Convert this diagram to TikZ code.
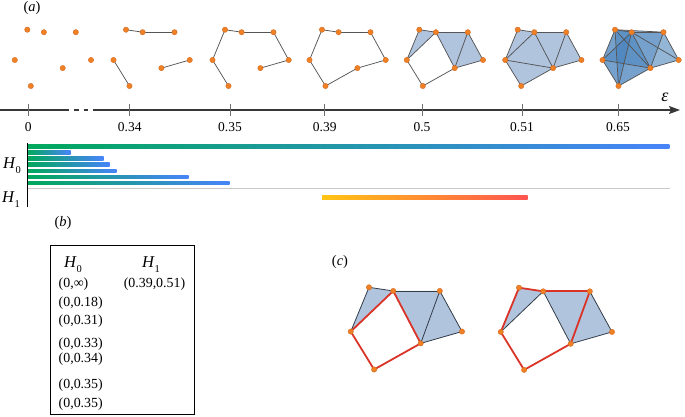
\documentclass[tikz,border=0pt]{standalone}
\usepackage{fontspec}
\setmainfont{Liberation Serif}
\usetikzlibrary{arrows.meta,calc}
\definecolor{ptor}{RGB}{240,128,36}
\definecolor{ptdk}{RGB}{205,100,30}
\definecolor{edgegray}{RGB}{85,85,85}
\definecolor{trifill}{RGB}{58,108,173}
\definecolor{trideep}{RGB}{45,112,178}
\definecolor{axgray}{RGB}{55,55,55}
\definecolor{tickgray}{RGB}{110,110,110}
\definecolor{hgreen}{RGB}{0,168,92}
\definecolor{hblue}{RGB}{72,132,250}
\definecolor{hyellow}{RGB}{255,196,20}
\definecolor{hred}{RGB}{255,84,80}
\definecolor{cycred}{RGB}{218,52,40}
\definecolor{sepgray}{RGB}{200,200,200}
\definecolor{cedge}{RGB}{50,60,72}
\newcommand{\mkpts}[4]{%
  \coordinate (#1A) at (#2,#3);
  \coordinate (#1B) at ({#2+#4*16.6},{#3+#4*2.5});
  \coordinate (#1C) at ({#2+#4*48.5},{#3+#4*2.5});
  \coordinate (#1D) at ({#2-#4*12.5},{#3+#4*30.3});
  \coordinate (#1E) at ({#2+#4*63.7},{#3+#4*30.3});
  \coordinate (#1F) at ({#2+#4*35.4},{#3+#4*38.4});
  \coordinate (#1G) at ({#2+#4*3.5},{#3+#4*56.3});
}
\newcommand{\drawpts}[1]{\foreach \p in {A,B,C,D,E,F,G} \fill[ptstyle] (#1\p) circle (2.7pt);}
\newcommand{\hsym}[1]{\textit{H}\raisebox{-0.3em}{\fontsize{10.5}{11}\selectfont #1}}
\begin{document}
\begin{tikzpicture}[x=1pt,y=-1pt,
  ptstyle/.style={fill=ptor,draw=ptdk,line width=0.3pt},
  edge/.style={draw=edgegray,line width=0.75pt},
  tri/.style={fill=trifill,fill opacity=0.4},
  trid/.style={fill=trideep,fill opacity=0.3},
  axis/.style={draw=axgray,line width=1.5pt},
  tickmark/.style={draw=tickgray,line width=0.8pt},
  ticklab/.style={font=\fontsize{13.5}{16}\selectfont,inner sep=0pt},
  lab/.style={font=\fontsize{14.5}{16}\selectfont,inner sep=0pt},
  tabtxt/.style={font=\fontsize{13.9}{15}\selectfont,inner sep=0pt},
  hlab/.style={font=\fontsize{16.5}{18}\selectfont,inner sep=0pt},
  cedgest/.style={draw=cedge,line width=0.8pt},
  credst/.style={draw=cycred,line width=1.8pt,line cap=round}]
\useasboundingbox (0,0) rectangle (685,416);
% ---------- (a) point clouds ----------
\node[lab] (la) at (32,8) {(\textit{a})};
\mkpts{f1}{27.3}{29.7}{1}
\mkpts{f2}{126}{29.7}{1}
\mkpts{f3}{225}{29.7}{1}
\mkpts{f4}{322}{29.7}{1}
\mkpts{f5}{419.3}{29.7}{1}
\mkpts{f6}{517.7}{29.7}{1}
\mkpts{f7}{615}{29.7}{1}
% frame 2
\foreach \u/\v in {A/B,B/C,D/G,E/F} \draw[edge] (f2\u) -- (f2\v);
% frame 3
\foreach \u/\v in {A/B,B/C,A/D,D/G,C/E,E/F} \draw[edge] (f3\u) -- (f3\v);
% frame 4
\foreach \u/\v in {A/B,B/C,A/D,D/G,C/E,E/F,F/G} \draw[edge] (f4\u) -- (f4\v);
% frame 5
\foreach \a/\b/\c in {A/B/D,B/C/F,C/E/F} \fill[tri] (f5\a) -- (f5\b) -- (f5\c) -- cycle;
\foreach \u/\v in {A/B,B/C,A/D,D/G,C/E,E/F,F/G,B/D,B/F,C/F} \draw[edge] (f5\u) -- (f5\v);
% frame 6
\foreach \a/\b/\c in {A/B/D,B/C/F,C/E/F,B/D/F,D/F/G} \fill[tri] (f6\a) -- (f6\b) -- (f6\c) -- cycle;
\foreach \u/\v in {A/B,B/C,A/D,D/G,C/E,E/F,F/G,B/D,B/F,C/F,D/F} \draw[edge] (f6\u) -- (f6\v);
% frame 7
\foreach \a/\b/\c in {A/B/C,A/B/D,A/B/F,A/B/G,A/C/F,A/D/F,A/D/G,A/F/G,B/C/E,B/C/F,B/D/F,B/D/G,B/E/F,B/F/G,C/E/F,D/F/G}
  \fill[trid] (f7\a) -- (f7\b) -- (f7\c) -- cycle;
\foreach \u/\v in {A/B,A/C,A/D,A/F,A/G,B/C,B/D,B/E,B/F,B/G,C/E,C/F,D/F,D/G,E/F,F/G} \draw[edge] (f7\u) -- (f7\v);
\foreach \f in {f1,f2,f3,f4,f5,f6,f7} {\drawpts{\f}}
% ---------- axis ----------
\coordinate (ax0) at (0,110);
\coordinate (axb1) at (69.3,110);
\coordinate (axd1a) at (74,110);
\coordinate (axd1b) at (79,110);
\coordinate (axd2a) at (83.5,110);
\coordinate (axd2b) at (87.5,110);
\coordinate (axb2) at (93.3,110);
\coordinate (axend) at (680,110);
\draw[axis] (ax0) -- (axb1);
\draw[axis] (axd1a) -- (axd1b);
\draw[axis] (axd2a) -- (axd2b);
\draw[axis,-{Stealth[length=11pt,width=8pt,inset=2pt]}] (axb2) -- (axend);
\node[font=\fontsize{18}{20}\selectfont,inner sep=0pt] (eps) at (665,97) {\textit{ε}};
\foreach \x/\l/\n in {28.3/0/t0,129.7/0.34/t1,230/0.35/t2,324.7/0.39/t3,422/0.5/t4,522/0.51/t5,618/0.65/t6} {
  \draw[tickmark] (\x,104) -- (\x,116);
  \node[ticklab] (\n) at (\x,127.5) {\l};
}
% ---------- barcode ----------
\shade[left color=hgreen,right color=hblue] (28,144.8) rectangle (669.3,148.6);
\foreach \y/\e in {152.7/70.7,158.7/103.7,164.7/109.7,171/116.7,177/188.7,183/229.7}
  \shade[left color=hgreen,right color=hblue] (28,\y-1.9) rectangle (\e,\y+1.9);
\coordinate (sep0) at (28,188.7);
\coordinate (sep1) at (670,188.7);
\draw[draw=sepgray,line width=1.3pt] (sep0) -- (sep1);
\shade[left color=hyellow,right color=hred] (322,195.4) rectangle (527.7,199.2);
\coordinate (bl0) at (27.3,143);
\coordinate (bl1) at (27.3,207);
\draw[black,line width=1.2pt] (bl0) -- (bl1);
\node[hlab] (h0) at (12,166) {\hsym{0}};
\node[hlab] (h1) at (11,200) {\hsym{1}};
% ---------- (b) table ----------
\node[lab] (lb) at (63,223) {(\textit{b})};
\draw[black,line width=0.8pt] (50,245) rectangle (194.3,414);
\node[hlab] (th0) at (73,265) {\hsym{0}};
\node[hlab] (th1) at (151,265) {\hsym{1}};
\node[tabtxt,anchor=west] (r1) at (58.5,284.3) {(0,∞)};
\node[tabtxt] (r1b) at (154.5,284.3) {(0.39,0.51)};
\node[tabtxt,anchor=west] (r2) at (58.5,303.3) {(0,0.18)};
\node[tabtxt,anchor=west] (r3) at (58.5,321) {(0,0.31)};
\node[tabtxt,anchor=west] (r4) at (58.5,344.3) {(0,0.33)};
\node[tabtxt,anchor=west] (r5) at (58.5,359) {(0,0.34)};
\node[tabtxt,anchor=west] (r6) at (58.5,385) {(0,0.35)};
\node[tabtxt,anchor=west] (r7) at (58.5,404) {(0,0.35)};
% ---------- (c) ----------
\node[lab] (lc) at (340,262) {(\textit{c})};
\mkpts{cl}{369}{287.3}{1.46}
\mkpts{cr}{519}{287.7}{1.46}
\foreach \f in {cl,cr}
  \foreach \a/\b/\c in {A/B/D,B/C/F,C/E/F} \fill[tri] (\f\a) -- (\f\b) -- (\f\c) -- cycle;
\foreach \u/\v in {A/D,A/B,B/C,C/E,E/F,C/F} \draw[cedgest] (cl\u) -- (cl\v);
\foreach \u/\v in {D/B,B/F,F/G,G/D} \draw[credst] (cl\u) -- (cl\v);
\foreach \u/\v in {B/D,B/F,C/E,E/F} \draw[cedgest] (cr\u) -- (cr\v);
\foreach \u/\v in {D/A,A/B,B/C,C/F,F/G,G/D} \draw[credst] (cr\u) -- (cr\v);
\drawpts{cl}
\drawpts{cr}
\end{tikzpicture}
\end{document}
